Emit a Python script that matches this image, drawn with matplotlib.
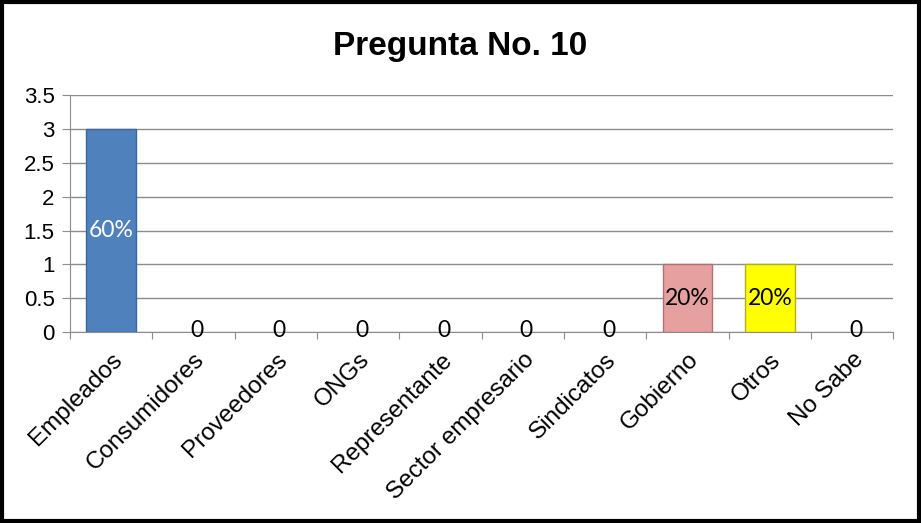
import matplotlib.pyplot as plt
from matplotlib.patches import Rectangle

categorias = ["Empleados", "Consumidores", "Proveedores", "ONGs", "Representante",
              "Sector empresario", "Sindicatos", "Gobierno", "Otros", "No Sabe"]
valores = [3, 0, 0, 0, 0, 0, 0, 1, 1, 0]
etiquetas = ["60%", "0", "0", "0", "0", "0", "0", "20%", "20%", "0"]
colores = ["#4F81BD", "#4F81BD", "#4F81BD", "#4F81BD", "#4F81BD",
           "#4F81BD", "#4F81BD", "#E6A0A0", "#FFFF00", "#4F81BD"]
bordes = ["#3A679C", "#3A679C", "#3A679C", "#3A679C", "#3A679C",
          "#3A679C", "#3A679C", "#B07070", "#B0B020", "#3A679C"]
y_ticks = [0, 0.5, 1, 1.5, 2, 2.5, 3, 3.5]

fig = plt.figure(figsize=(9.21, 5.23), dpi=100)
ax = fig.add_axes([0.076, 0.365, 0.894, 0.453])

x = range(len(categorias))
anchos_borde = [1.0 if v > 0 else 0 for v in valores]
ax.bar(x, valores, width=0.6, color=colores, edgecolor=bordes,
       linewidth=anchos_borde, zorder=3)

for i, (v, lab) in enumerate(zip(valores, etiquetas)):
    if v == 0:
        ax.text(i + 0.04, 0.02, lab, ha="center", va="center", fontsize=16.5,
                family="Lato", color="black", zorder=4)
    else:
        col = "white" if colores[i] == "#4F81BD" else "black"
        ax.text(i, v / 2, lab, ha="center", va="center", fontsize=16.5,
                family="Lato", color=col, zorder=4)

ax.set_xlim(-0.5, len(categorias) - 0.5)
ax.set_ylim(0, 3.5)
ax.set_yticks(y_ticks)
ax.set_yticklabels([f"{t:g}" for t in y_ticks], fontsize=16, family="Liberation Sans")
ax.yaxis.grid(True, color="#8C8C8C", linewidth=1.0, zorder=0)

ax.set_xticks([i - 0.5 for i in range(len(categorias) + 1)], minor=False)
ax.set_xticklabels([])
ax.set_xticks(list(x), minor=True)
ax.set_xticklabels(categorias, minor=True, rotation=45, ha="right", va="top",
                   rotation_mode="anchor", fontsize=17.5, family="Liberation Sans")
ax.tick_params(axis="x", which="minor", length=0, pad=12)
ax.tick_params(axis="x", which="major", length=5, color="#8C8C8C", direction="out")
ax.tick_params(axis="y", length=6, color="#8C8C8C", direction="out", pad=5)

for s in ["top", "right"]:
    ax.spines[s].set_visible(False)
for s in ["left", "bottom"]:
    ax.spines[s].set_color("#8C8C8C")

fig.text(0.5, 0.912, "Pregunta No. 10", ha="center", va="center", fontsize=24,
         fontweight="bold", family="Liberation Sans")

fig.patches.append(Rectangle((0.002, 0.003), 0.996, 0.994, transform=fig.transFigure,
                             fill=False, edgecolor="black", linewidth=3))

fig.savefig("out.png", dpi=100)
